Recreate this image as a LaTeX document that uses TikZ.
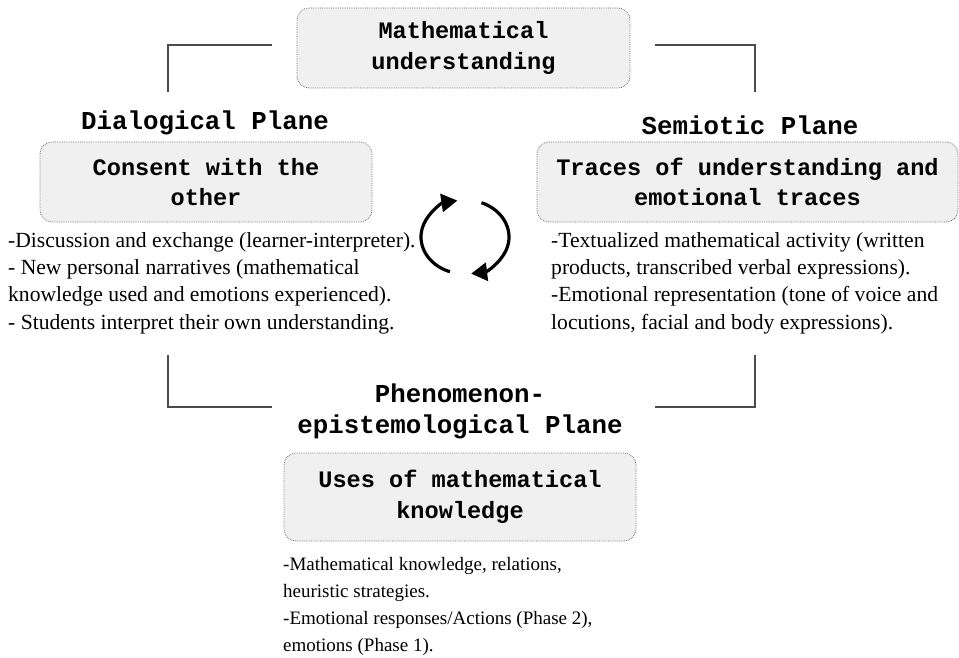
\documentclass[tikz,border=0pt]{standalone}
\usepackage{fontspec}
\setmainfont{Liberation Serif}
\setmonofont{Liberation Mono}
\usetikzlibrary{arrows.meta}
\begin{document}
\begin{tikzpicture}[x=1pt,y=-1pt,
  box/.style={draw=black!55, densely dotted, line width=0.8pt, fill=black!6, rounded corners=12pt, align=center, inner sep=0pt},
  boxtext/.style={font=\fontsize{23.6}{30.5}\selectfont\ttfamily\bfseries, align=center},
  title/.style={font=\fontsize{25.8}{31}\selectfont\ttfamily\bfseries, align=center, inner sep=0pt},
  body/.style={font=\fontsize{21.6}{27.3}\selectfont\rmfamily, align=left, inner sep=0pt, anchor=north west},
  bodysmall/.style={font=\fontsize{19}{27}\selectfont\rmfamily, align=left, inner sep=0pt, anchor=north west},
  bracket/.style={draw=black!70, line width=1.4pt},
  cyc/.style={line width=3.2pt, -{Triangle[length=16pt,width=18pt]}}
]
\useasboundingbox (0,0) rectangle (959,658);

% boxes
\node[box, minimum width=333pt, minimum height=80pt] (top) at (463.5,48) {};
\node[boxtext] (toptext) at (top.center) {Mathematical\\understanding};
\node[title] (dtitle) at (205,123) {Dialogical Plane};
\node[box, minimum width=332pt, minimum height=80pt] (dbox) at (206,182) {};
\node[boxtext] (dtext) at (dbox.center) {Consent with the\\other};
\node[title] (stitle) at (750,125) {Semiotic Plane};
\node[box, minimum width=421pt, minimum height=80pt] (sbox) at (747.5,182) {};
\node[boxtext] (stext) at (sbox.center) {Traces of understanding and\\emotional traces};
\node[title] (ptitle) at (460,411) {Phenomenon-\\epistemological Plane};
\node[box, minimum width=352pt, minimum height=88pt] (pbox) at (460,497) {};
\node[boxtext] (ptext) at (pbox.center) {Uses of mathematical\\knowledge};

% body texts
\node[body] (dbody) at (8,232) {-Discussion and exchange (learner-interpreter).\\- New personal narratives (mathematical\\knowledge used and emotions experienced).\\- Students interpret their own understanding.};
\node[body] (sbody) at (551,232) {-Textualized mathematical activity (written\\products, transcribed verbal expressions).\\-Emotional representation (tone of voice and\\locutions, facial and body expressions).};
\node[bodysmall] (pbody) at (283,557) {-Mathematical knowledge, relations,\\heuristic strategies.\\-Emotional responses/Actions (Phase 2),\\emotions (Phase 1).};

% brackets
\coordinate (tl1) at (272,45); \coordinate (tl2) at (168,45); \coordinate (tl3) at (168,92);
\coordinate (tr1) at (655,45); \coordinate (tr2) at (755,45); \coordinate (tr3) at (755,92);
\coordinate (bl1) at (168,355); \coordinate (bl2) at (168,407); \coordinate (bl3) at (272,407);
\coordinate (br1) at (755,355); \coordinate (br2) at (755,407); \coordinate (br3) at (655,407);
\draw[bracket] (tl1) -- (tl2) -- (tl3);
\draw[bracket] (tr1) -- (tr2) -- (tr3);
\draw[bracket] (bl1) -- (bl2) -- (bl3);
\draw[bracket] (br1) -- (br2) -- (br3);

% cycle arrows
\coordinate (cc) at (465,237);
\draw[cyc] ([shift={(250:44pt and 37pt)}]cc) arc[start angle=250, end angle=100, x radius=44pt, y radius=37pt];
\draw[cyc] ([shift={(68:44pt and 37pt)}]cc) arc[start angle=68, end angle=-82, x radius=44pt, y radius=37pt];
\end{tikzpicture}
\end{document}
